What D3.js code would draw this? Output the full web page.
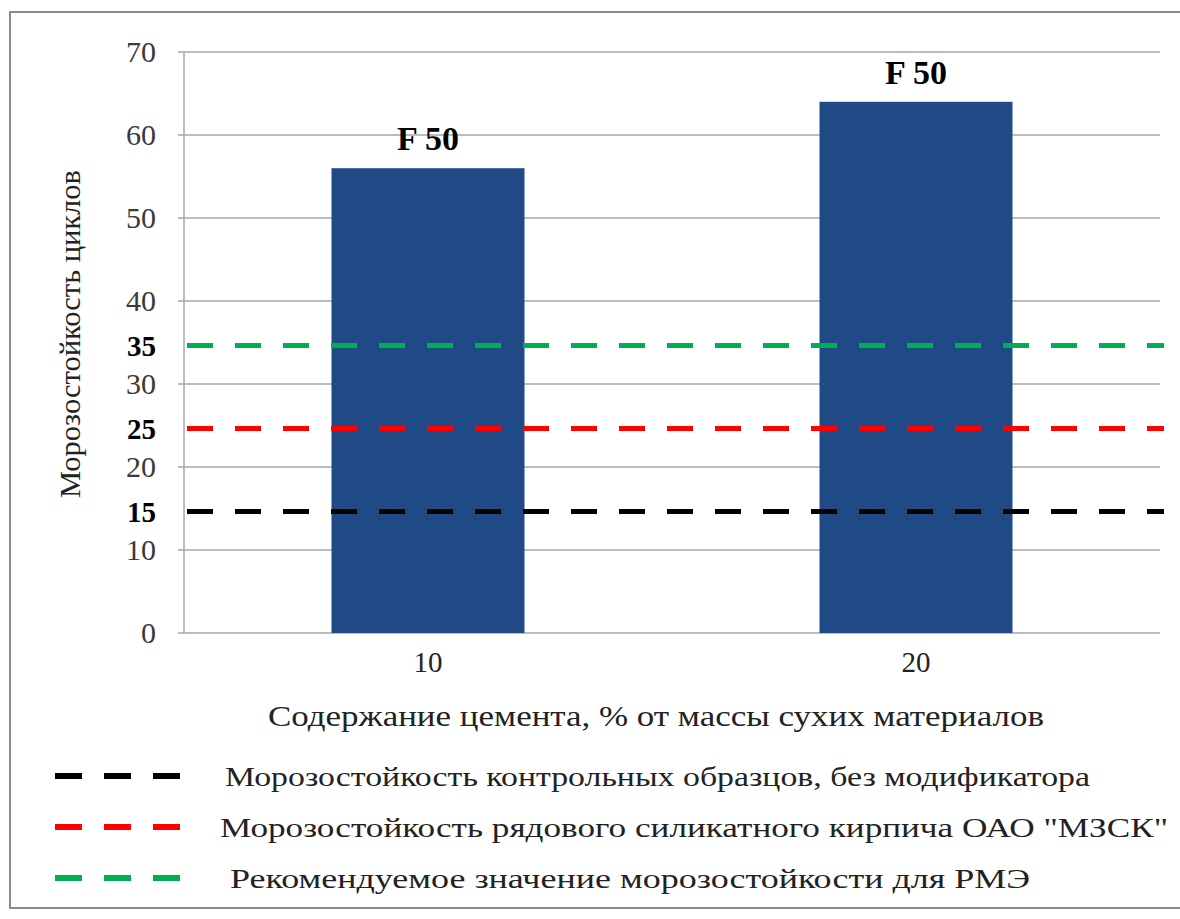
<!DOCTYPE html>
<html lang="ru">
<head>
<meta charset="utf-8">
<script src="https://cdn.jsdelivr.net/npm/d3@7"></script>
<style>
  html, body { margin: 0; padding: 0; background: #fff; }
  svg text { font-family: "Liberation Serif", "Times New Roman", Times, serif; }
</style>
</head>
<body>
<svg id="chart" width="1180" height="919"></svg>
<script>
// Cement content, % of dry mass
const categories = ["10", "20"];
// Frost resistance, cycles
const values = [56, 64];
const barLabels = ["F 50", "F 50"];

// Reference levels (cycles)
const refValues = [15, 25, 35];
const refNames = [
  "Морозостойкость  контрольных образцов, без модификатора",
  "Морозостойкость  рядового силикатного кирпича ОАО \"МЗСК\"",
  "Рекомендуемое значение морозостойкости для РМЭ"
];
const refColors = ["#000000", "#ff0000", "#00b050"];

const yTicks = [0, 10, 20, 30, 40, 50, 60, 70];

const yTitle = "Морозостойкость  циклов";
const xTitle = "Содержание цемента,  % от массы сухих материалов";

const svg = d3.select("#chart");

// outer frame
svg.append("path")
  .attr("d", "M1180,12 H10 V908 H1180")
  .attr("fill", "none")
  .attr("stroke", "#8c8c8c")
  .attr("stroke-width", 2);

const plot = { left: 184, right: 1160, top: 52, bottom: 633 };

const y = d3.scaleLinear().domain([0, 70]).range([plot.bottom, plot.top]);
const x = d3.scaleBand()
  .domain(categories)
  .range([plot.left, plot.right])
  .paddingInner(0.6045)
  .paddingOuter(0.30225);

// horizontal gridlines
svg.append("g")
  .selectAll("line")
  .data(yTicks)
  .join("line")
  .attr("x1", plot.left - 6)
  .attr("x2", plot.right)
  .attr("y1", d => y(d))
  .attr("y2", d => y(d))
  .attr("stroke", "#a6a6a6")
  .attr("stroke-width", 1.5);

// vertical axis line
svg.append("line")
  .attr("x1", plot.left).attr("x2", plot.left)
  .attr("y1", y(70)).attr("y2", y(0))
  .attr("stroke", "#a6a6a6")
  .attr("stroke-width", 1.5);

// y tick labels
const yAxis = d3.axisLeft(y).tickValues(yTicks).tickSize(0).tickPadding(0);
const gy = svg.append("g").attr("transform", `translate(156,0)`).call(yAxis);
gy.attr("font-family", null);
gy.select(".domain").remove();
gy.selectAll("text")
  .attr("font-size", 30)
  .attr("fill", "#3a3a3a");

// bold labels for the reference levels
svg.append("g")
  .selectAll("text")
  .data(refValues)
  .join("text")
  .attr("x", 156)
  .attr("y", d => y(d) + 3)
  .attr("dy", "0.35em")
  .attr("text-anchor", "end")
  .attr("font-size", 29)
  .attr("font-weight", "bold")
  .attr("fill", "#000")
  .text(d => d);

// bars
svg.append("g")
  .selectAll("rect")
  .data(values)
  .join("rect")
  .attr("x", (d, i) => x(categories[i]))
  .attr("width", x.bandwidth())
  .attr("y", d => y(d))
  .attr("height", d => y(0) - y(d))
  .attr("fill", "#1f4a85");

// bar annotations
svg.append("g")
  .selectAll("text")
  .data(values)
  .join("text")
  .attr("x", (d, i) => x(categories[i]) + x.bandwidth() / 2)
  .attr("y", d => y(d) - 18)
  .attr("text-anchor", "middle")
  .attr("font-size", 34)
  .attr("font-weight", "bold")
  .attr("fill", "#000")
  .text((d, i) => barLabels[i]);

// reference dashed lines
svg.append("g")
  .selectAll("line")
  .data(refValues)
  .join("line")
  .attr("x1", plot.left + 3)
  .attr("x2", plot.right + 4)
  .attr("y1", d => y(d) + 3)
  .attr("y2", d => y(d) + 3)
  .attr("stroke", (d, i) => refColors[i])
  .attr("stroke-width", 5)
  .attr("stroke-dasharray", "26 22");

// x tick labels
const xAxis = d3.axisBottom(x).tickSize(0).tickPadding(0);
const gx = svg.append("g").attr("transform", `translate(0,${plot.bottom + 39})`).call(xAxis);
gx.attr("font-family", null);
gx.select(".domain").remove();
gx.selectAll("text")
  .attr("dy", 0)
  .attr("font-size", 29)
  .attr("fill", "#222");

// axis titles
svg.append("text")
  .attr("x", 656)
  .attr("y", 726)
  .attr("text-anchor", "middle")
  .attr("font-size", 29)
  .attr("fill", "#222")
  .attr("textLength", 776)
  .attr("lengthAdjust", "spacingAndGlyphs")
  .text(xTitle);

svg.append("text")
  .attr("transform", "translate(80,334) rotate(-90)")
  .attr("text-anchor", "middle")
  .attr("font-size", 30)
  .attr("fill", "#222")
  .attr("textLength", 328)
  .attr("lengthAdjust", "spacingAndGlyphs")
  .text(yTitle);

// legend
const legendRows = [776, 827, 878];
const legendTextX = [225, 220, 230];
const legendTextW = [865, 948, 800];
const legend = svg.append("g")
  .selectAll("g")
  .data(refValues)
  .join("g")
  .attr("transform", (d, i) => `translate(0,${legendRows[i]})`);

legend.append("line")
  .attr("x1", 55).attr("x2", 180)
  .attr("y1", 0).attr("y2", 0)
  .attr("stroke", (d, i) => refColors[i])
  .attr("stroke-width", 6)
  .attr("stroke-dasharray", "27 22");

legend.append("text")
  .attr("x", (d, i) => legendTextX[i])
  .attr("y", 10)
  .attr("font-size", 28)
  .attr("fill", "#222")
  .attr("textLength", (d, i) => legendTextW[i])
  .attr("lengthAdjust", "spacingAndGlyphs")
  .text((d, i) => refNames[i]);
</script>
</body>
</html>
